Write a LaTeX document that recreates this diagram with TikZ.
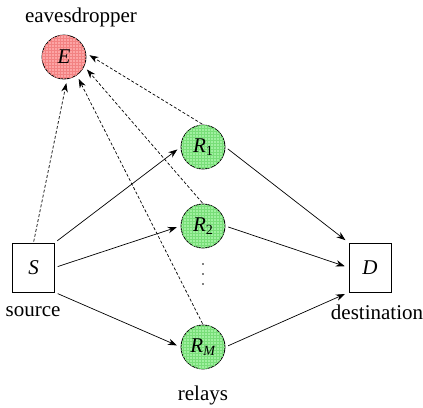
\documentclass[tikz,border=0pt]{standalone}
\usepackage{fontspec}
\setmainfont{Liberation Serif}
\usetikzlibrary{arrows.meta,patterns}
\definecolor{efill}{RGB}{252,165,165}
\definecolor{epat}{RGB}{242,130,130}
\definecolor{rfill}{RGB}{160,240,160}
\definecolor{rpat}{RGB}{120,222,120}
\begin{document}
\begin{tikzpicture}[x=1pt,y=-1pt,
  every node/.style={font=\fontsize{21}{25}\selectfont},
  circ/.style={circle,draw,line width=0.8pt,minimum size=44pt,inner sep=0pt},
  enode/.style={circ,fill=efill,postaction={pattern=grid,pattern color=epat}},
  rnode/.style={circ,fill=rfill,postaction={pattern=grid,pattern color=rpat}},
  boxnode/.style={draw,line width=0.8pt,minimum width=42pt,minimum height=49pt,inner sep=0pt},
  lbl/.style={inner sep=0pt},
  link/.style={line width=0.7pt,-{Stealth[length=9pt,width=6.5pt]},shorten >=4pt,shorten <=3pt},
  tap/.style={line width=0.7pt,dash pattern=on 3pt off 2pt,-{Stealth[length=9pt,width=6.5pt]},shorten >=4pt,shorten <=1pt}]
\useasboundingbox (0,0) rectangle (423,407);
\node[enode] (E) at (64,57) {\textit{E}};
\node[rnode] (R1) at (203,147) {\textit{R}\raisebox{-0.3ex}{\fontsize{14}{14}\selectfont 1}};
\node[rnode] (R2) at (203,226) {\textit{R}\raisebox{-0.3ex}{\fontsize{14}{14}\selectfont 2}};
\node[rnode] (RM) at (203,347) {\textit{R}\raisebox{-0.3ex}{\fontsize{14}{14}\selectfont\textit{M}}};
\node[boxnode] (S) at (33.5,267.5) {\textit{S}};
\node[boxnode] (D) at (370,267.5) {\textit{D}};
\node[lbl] (le) at (81,17) {eavesdropper};
\node[lbl] (ls) at (33,312) {source};
\node[lbl] (ld) at (377,312) {destination};
\node[lbl] (lr) at (203,395) {relays};
\foreach \yy in {264,274,284} \fill (203,\yy) circle (0.9pt);
\draw[link] (S.north east) -- (R1.west);
\draw[link] (S.east) -- (R2.west);
\draw[link] (S.south east) -- (RM.west);
\draw[link] (R1.east) -- (D.north west);
\draw[link] (R2.east) -- (D.west);
\draw[link] (RM.east) -- (D.south west);
\draw[tap] (S.north) -- (E.-82);
\draw[tap] (R1.north) -- (E.10);
\draw[tap] (R2.north) -- (E.-25);
\draw[tap] (RM.north) -- (E.-55);
\end{tikzpicture}
\end{document}
